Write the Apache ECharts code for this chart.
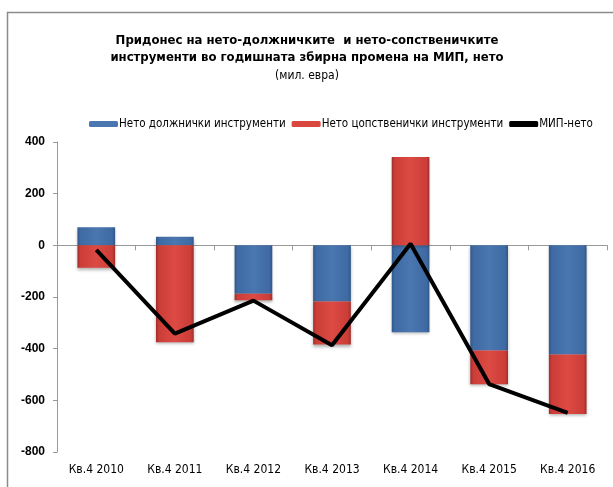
<!DOCTYPE html>
<html>
<head>
<meta charset="utf-8">
<script src="https://cdn.jsdelivr.net/npm/echarts@6/dist/echarts.min.js"></script>
<style>
    html, body { margin: 0; padding: 0; background: #fff; }
    #Chart { width: 613px; height: 487px; }
</style>
</head>
<body>
<div id="Chart"></div>
<script>
// податоци од графиконот (мил. евра)
let Categories = ["Кв.4 2010", "Кв.4 2011", "Кв.4 2012", "Кв.4 2013", "Кв.4 2014", "Кв.4 2015", "Кв.4 2016"]
let DebtValues = [70, 33, -187, -217, -336, -407, -423]
let EquityValues = [-87, -375, -26, -167, 342, -131, -230]
let MipValues = [-18, -342, -214, -387, 6, -537, -649]
let SeriesNames = ["Нето должнички инструменти", "Нето цопственички инструменти", "МИП-нето"]

function BarGradient(dark, mid, light) {
    return new echarts.graphic.LinearGradient(0, 0, 1, 0, [
        { offset: 0, color: dark },
        { offset: 0.08, color: mid },
        { offset: 0.5, color: light },
        { offset: 0.92, color: mid },
        { offset: 1, color: dark }
    ])
}

let FontName = "'DejaVu Sans Condensed', 'Liberation Sans', sans-serif"

let Chart = echarts.init(document.getElementById("Chart"))
let Options = {
    animation: false,
    textStyle: { fontFamily: FontName },
    title: {
        text: "Придонес на нето-должничките  и нето-сопственичките\nинструменти во годишната збирна промена на МИП, нето",
        subtext: "(мил. евра)",
        left: 302,
        textAlign: "center",
        top: 27,
        itemGap: 4,
        textStyle: { fontSize: 13, fontWeight: "bold", color: "#000", lineHeight: 17, fontFamily: FontName },
        subtextStyle: { fontSize: 12, color: "#000", fontFamily: FontName }
    },
    legend: {
        top: 113,
        left: 84,
        itemGap: 6,
        itemWidth: 29,
        itemHeight: 6,
        textStyle: { fontSize: 11.5, color: "#000", fontFamily: FontName, padding: [0, 0, 0, -4] },
        data: [
            { name: SeriesNames[0], icon: "roundRect", itemStyle: { color: "#4a77b0" } },
            { name: SeriesNames[1], icon: "roundRect", itemStyle: { color: "#d9473f" } },
            { name: SeriesNames[2], icon: "roundRect", itemStyle: { color: "#000" } }
        ]
    },
    grid: { left: 57, right: 6, top: 142, bottom: 35 },
    xAxis: [
        {
            type: "category",
            data: Categories,
            axisLine: { onZero: true, lineStyle: { color: "#999" } },
            axisTick: { show: true, length: 5, lineStyle: { color: "#999" } },
            axisLabel: { show: false }
        },
        {
            // ознаки на категориите, под графиконот
            type: "category",
            data: Categories,
            position: "bottom",
            axisLine: { show: false },
            axisTick: { show: false },
            axisLabel: { fontSize: 12, color: "#000", margin: 12, fontFamily: FontName, interval: 0 }
        }
    ],
    yAxis: {
        type: "value",
        min: -800,
        max: 400,
        interval: 200,
        axisLine: { show: true, lineStyle: { color: "#999" } },
        axisTick: { show: true, length: 4, lineStyle: { color: "#999" } },
        splitLine: { show: false },
        axisLabel: { fontSize: 12, fontWeight: "bold", color: "#000", margin: 12, fontFamily: "'Liberation Sans', sans-serif" }
    },
    series: [
        {
            name: SeriesNames[0],
            type: "bar",
            stack: "mip",
            barWidth: "48%",
            data: DebtValues,
            itemStyle: {
                color: BarGradient("#2f5888", "#3f6aa3", "#4a77b0"),
                shadowColor: "rgba(0,0,0,0.3)",
                shadowBlur: 3,
                shadowOffsetY: 2
            }
        },
        {
            name: SeriesNames[1],
            type: "bar",
            stack: "mip",
            barWidth: "48%",
            data: EquityValues,
            itemStyle: {
                color: BarGradient("#9e2f2b", "#cc3d38", "#dc4a43"),
                shadowColor: "rgba(0,0,0,0.3)",
                shadowBlur: 3,
                shadowOffsetY: 2
            }
        },
        {
            name: SeriesNames[2],
            type: "line",
            data: MipValues,
            symbol: "none",
            z: 5,
            lineStyle: { color: "#000", width: 4 },
            itemStyle: { color: "#000" }
        }
    ],
    graphic: [
        {
            type: "polyline",
            silent: true,
            shape: { points: [[7.5, 487], [7.5, 12.5], [613, 12.5]] },
            style: { stroke: "#8c8c8c", lineWidth: 1.5, fill: null }
        }
    ]
}

Chart.setOption(Options)
</script>
</body>
</html>
